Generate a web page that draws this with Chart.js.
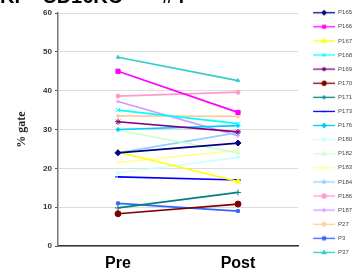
<!DOCTYPE html>
<html>
<head>
<meta charset="utf-8">
<script src="https://cdn.jsdelivr.net/npm/chart.js@4/dist/chart.umd.min.js"></script>
<style>
html,body{margin:0;padding:0;background:#fff;}
#wrap{width:358px;height:278px;}
</style>
</head>
<body>
<div id="wrap"><canvas id="c"></canvas></div>
<script>
// timepoints
const timepoints = ["Pre", "Post"];

// patient ids, in legend order
const patients = ["P165","P166","P167","P168","P169","P170","P171","P173","P176",
  "P180","P182","P183","P184","P186","P187","P27","P3","P37"];

// % gate values
const preValues  = [24.0, 45.0, 24.2, 35.0, 32.0, 8.3, 9.8, 17.8, 30.0,
  18.8, 29.8, 21.5, 24.0, 38.6, 37.2, 33.5, 11.0, 48.6];
const postValues = [26.5, 34.4, 16.6, 31.5, 29.4, 10.8, 13.8, 17.0, 31.0,
  22.8, 24.0, 24.6, 29.2, 39.6, 28.4, 33.4, 9.0, 42.6];

// excel style colours and markers
const colours = ["#000080","#ff00ff","#ffff00","#00ffff","#800080","#800000","#008080","#0000ff","#00ccff",
  "#ccffff","#ccffcc","#ffff99","#99ccff","#ff99cc","#cc99ff","#ffcc99","#3366ff","#33cccc"];
const markers = ["rectRot","rect","triangle","crossRot","star","circle","cross","line","rectRot",
  "rect","triangle","crossRot","star","circle","cross","rectRot","rect","triangle"];

const yTicks = [0,10,20,30,40,50,60];

// title is cut off by the top edge in the original
const titleText = "KI    CD16KO       #4";

// legend sample: short line with the marker in the middle, a bit of blank space on the left
function legendIcon(colour, marker){
  const cv = document.createElement("canvas");
  cv.width = 29; cv.height = 7;
  const g = cv.getContext("2d");
  g.strokeStyle = colour; g.fillStyle = colour; g.lineWidth = 1.3;
  g.beginPath(); g.moveTo(7,3.5); g.lineTo(29,3.5); g.stroke();
  Chart.helpers.drawPoint(g, {pointStyle: marker, radius: 2, rotation: 0, borderWidth: 1}, 18, 3.5);
  return cv;
}

const cutTitle = {
  id: "cutTitle",
  afterDraw(chart){
    const ctx = chart.ctx;
    ctx.save();
    ctx.font = "bold 20px Arial, 'Liberation Sans', sans-serif";
    ctx.fillStyle = "#000";
    ctx.textBaseline = "alphabetic";
    ctx.fillText(titleText, 0, 3);
    ctx.restore();
  }
};

const datasets = patients.map((p,i)=>({
  label: p,
  data: [preValues[i], postValues[i]],
  borderColor: colours[i],
  backgroundColor: colours[i],
  borderWidth: 1.7,
  pointStyle: markers[i],
  pointRadius: i < 8 ? 3 : 2,
  pointBorderWidth: 1,
  tension: 0
}));

new Chart(document.getElementById("c"), {
  type: "line",
  data: { labels: timepoints, datasets },
  plugins: [cutTitle],
  options: {
    responsive: true,
    maintainAspectRatio: false,
    animation: false,
    layout: { padding: { top: 1.6, right: 0 } },
    plugins: {
      legend: {
        position: "right",
        align: "start",
        maxWidth: 60,
        labels: {
          usePointStyle: true,
          pointStyleWidth: 29,
          boxHeight: 6,
          padding: 8.1,
          color: "#445",
          font: { family: "Arial, Liberation Sans, sans-serif", size: 6 },
          generateLabels: chart => chart.data.datasets.map((d,i)=>({
            text: d.label,
            pointStyle: legendIcon(colours[i], markers[i]),
            fontColor: "#445",
            lineWidth: 0,
            strokeStyle: "transparent",
            fillStyle: "transparent",
            datasetIndex: i
          }))
        }
      },
      tooltip: { enabled: false }
    },
    scales: {
      x: {
        offset: true,
        grid: { display: false, drawTicks: false },
        border: { color: "#333", width: 1.5 },
        ticks: {
          color: "#000", padding: 8,
          font: { family: "Arial, Liberation Sans, sans-serif", size: 16, weight: "bold" }
        },
        afterFit: s => { s.height = 32; }
      },
      y: {
        min: 0, max: 60,
        afterBuildTicks: s => { s.ticks = yTicks.map(v=>({value:v})); },
        grid: { color: "#dcdcdc", lineWidth: 1, tickLength: 3, tickColor: "#555" },
        border: { color: "#777", width: 1.5 },
        ticks: {
          color: "#333", padding: 3,
          font: { family: "Arial, Liberation Sans, sans-serif", size: 8, weight: "bold" }
        },
        title: {
          display: true, text: "% gate", color: "#222",
          font: { family: "Times New Roman, Liberation Serif, serif", size: 12, weight: "bold" },
          padding: { top: 15, bottom: 0 }
        },
        afterFit: s => { s.width = 58; s.paddingTop = 13; }
      }
    }
  }
});
</script>
</body>
</html>
